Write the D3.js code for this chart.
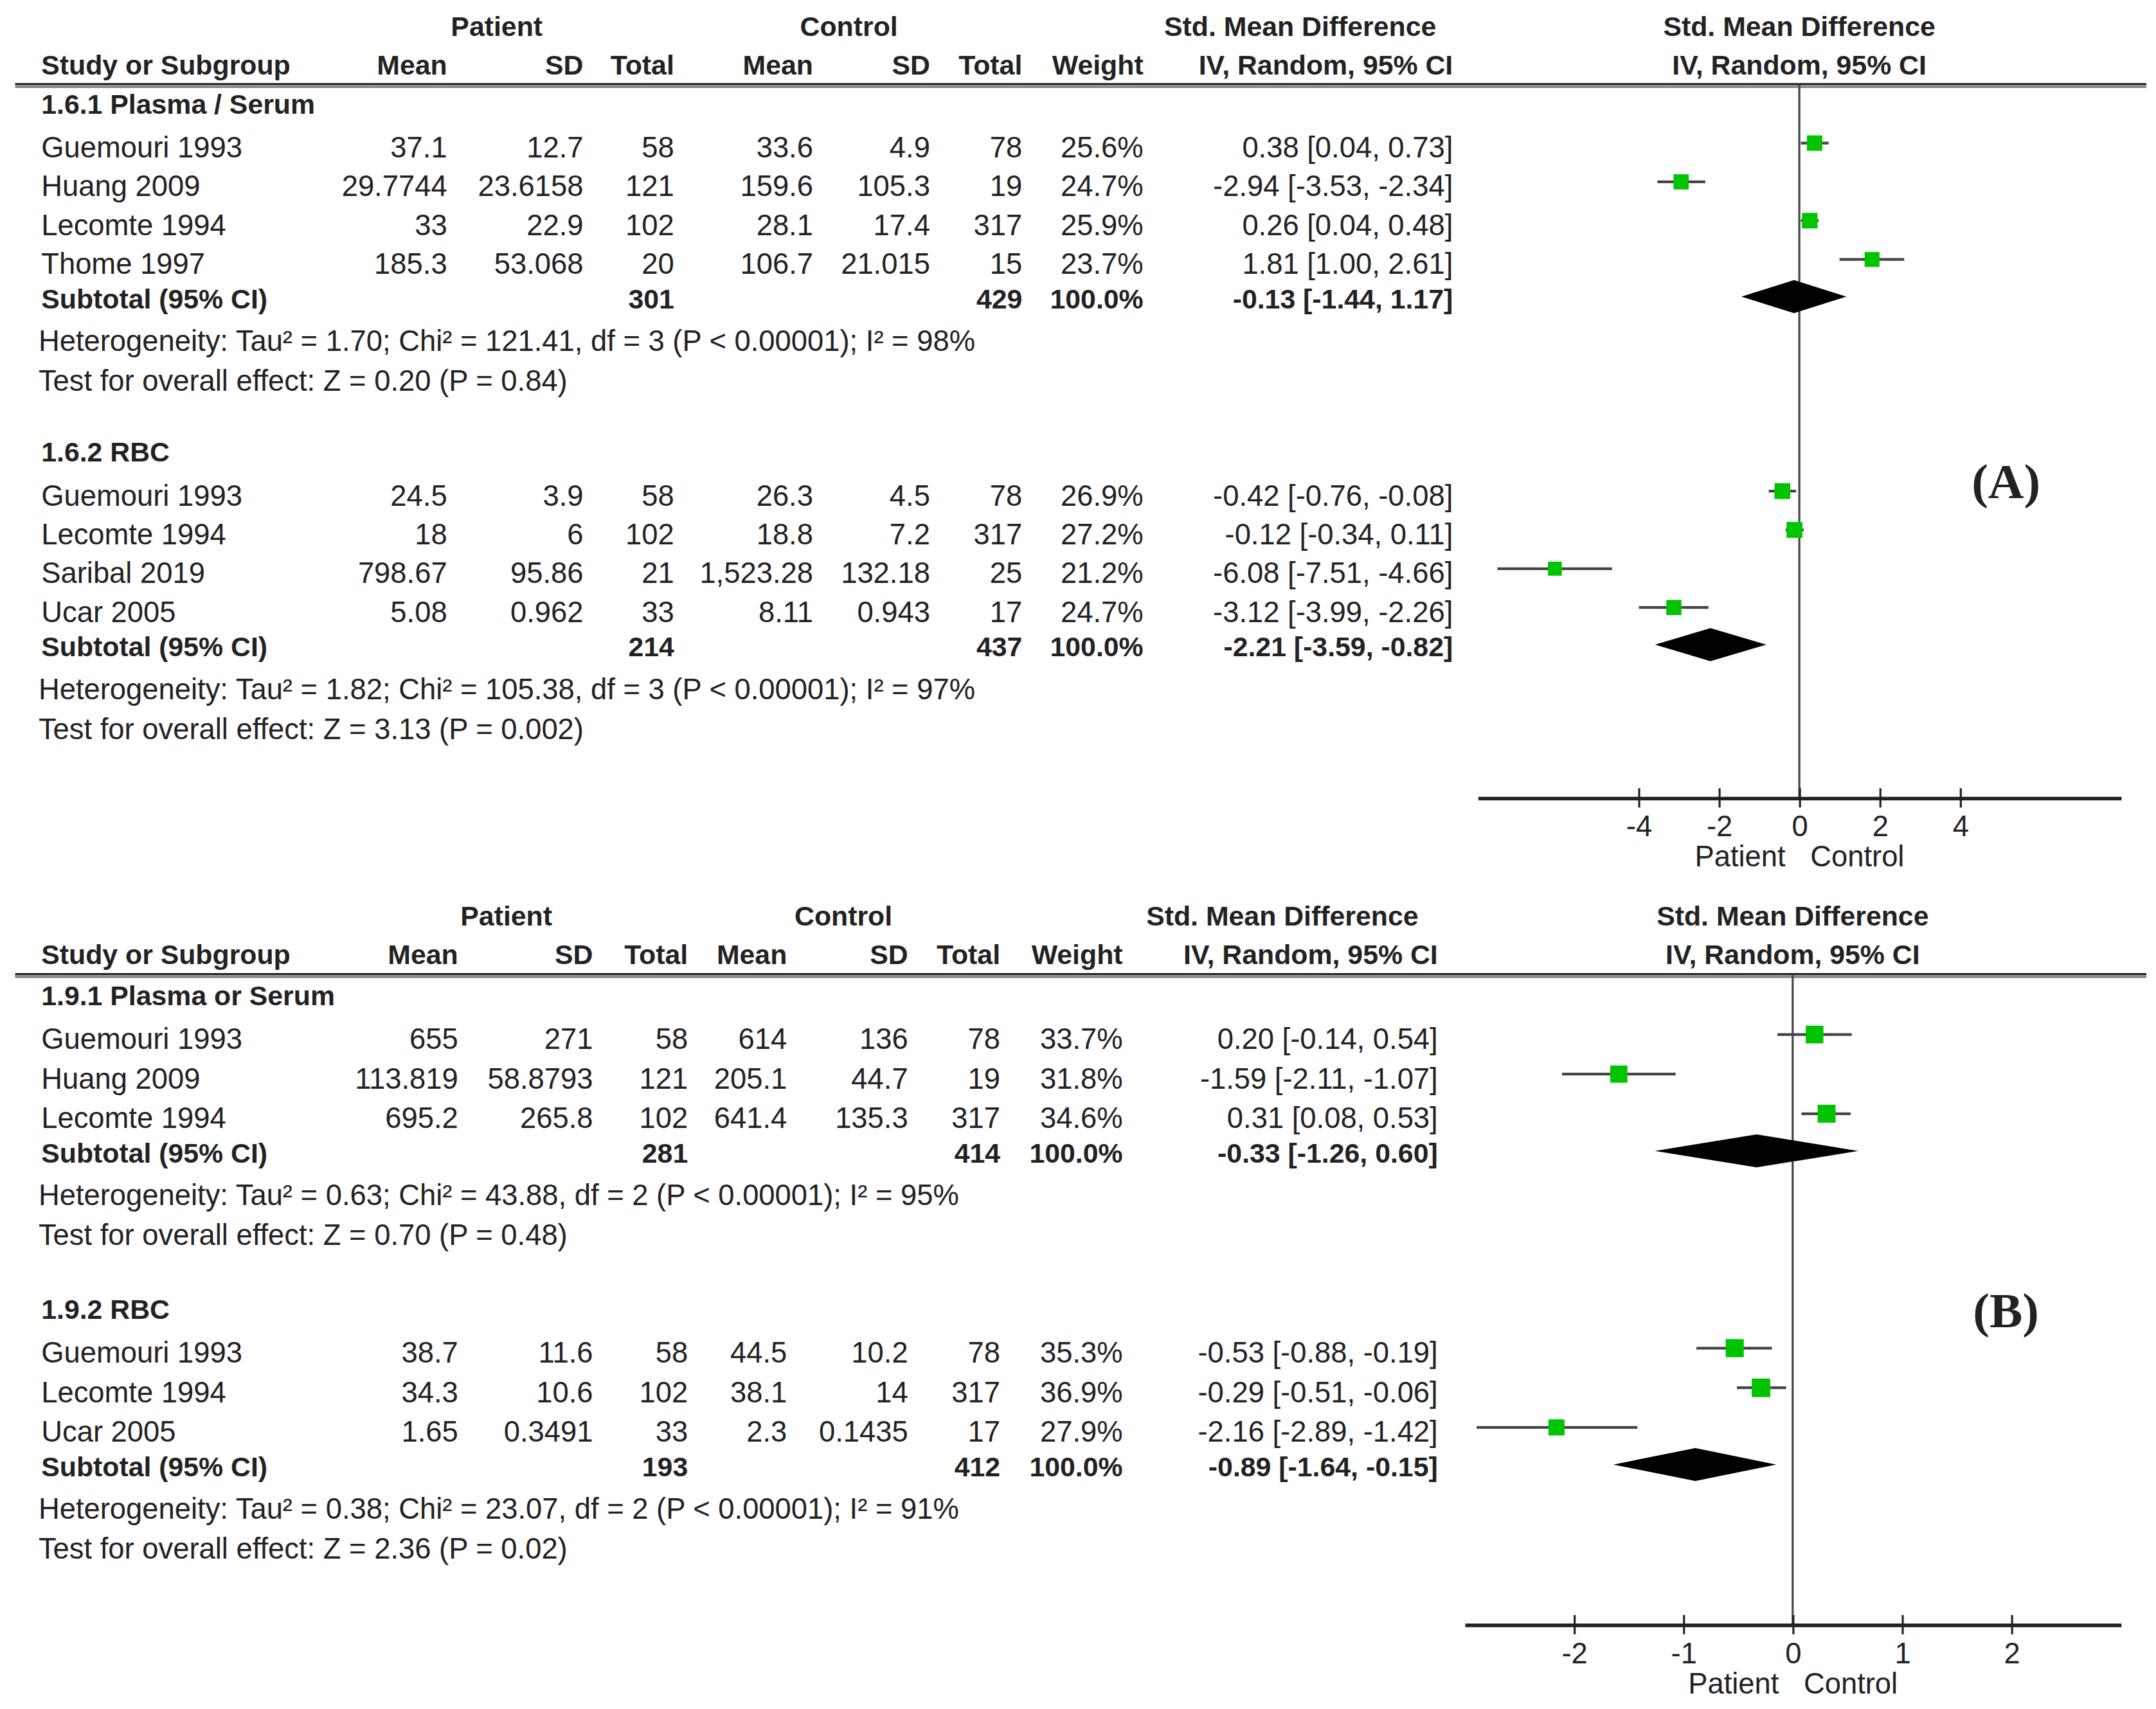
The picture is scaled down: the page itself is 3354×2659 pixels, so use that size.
<!DOCTYPE html>
<html>
<head>
<meta charset="utf-8">
<script src="https://cdn.jsdelivr.net/npm/d3@7"></script>
<style>
  body { margin: 0; background: #fff; }
  text { font-family: "Liberation Sans", Arial, sans-serif; fill: #222; }
</style>
</head>
<body>
<script>
// ---- data ----
// row: study, patient mean, sd, total, control mean, sd, total, weight, smd, lo, hi
const colHeads = ["Study or Subgroup", "Mean", "SD", "Total", "Mean", "SD", "Total", "Weight"];

const groupsA = ["1.6.1 Plasma / Serum", "1.6.2 RBC"];
const studiesA = [
    [
        ["Guemouri 1993", "37.1", "12.7", 58, "33.6", "4.9", 78, 25.6, 0.38, 0.04, 0.73],
        ["Huang 2009", "29.7744", "23.6158", 121, "159.6", "105.3", 19, 24.7, -2.94, -3.53, -2.34],
        ["Lecomte 1994", "33", "22.9", 102, "28.1", "17.4", 317, 25.9, 0.26, 0.04, 0.48],
        ["Thome 1997", "185.3", "53.068", 20, "106.7", "21.015", 15, 23.7, 1.81, 1.00, 2.61]
    ],
    [
        ["Guemouri 1993", "24.5", "3.9", 58, "26.3", "4.5", 78, 26.9, -0.42, -0.76, -0.08],
        ["Lecomte 1994", "18", "6", 102, "18.8", "7.2", 317, 27.2, -0.12, -0.34, 0.11],
        ["Saribal 2019", "798.67", "95.86", 21, "1,523.28", "132.18", 25, 21.2, -6.08, -7.51, -4.66],
        ["Ucar 2005", "5.08", "0.962", 33, "8.11", "0.943", 17, 24.7, -3.12, -3.99, -2.26]
    ]
];
// subtotal: patient total, control total, smd, lo, hi
const subtotalsA = [[301, 429, -0.13, -1.44, 1.17], [214, 437, -2.21, -3.59, -0.82]];
const heteroA = [
    "Heterogeneity: Tau² = 1.70; Chi² = 121.41, df = 3 (P < 0.00001); I² = 98%",
    "Heterogeneity: Tau² = 1.82; Chi² = 105.38, df = 3 (P < 0.00001); I² = 97%"
];
const overallA = ["Test for overall effect: Z = 0.20 (P = 0.84)", "Test for overall effect: Z = 3.13 (P = 0.002)"];
const ticksA = [-4, -2, 0, 2, 4];

const groupsB = ["1.9.1 Plasma or Serum", "1.9.2 RBC"];
const studiesB = [
    [
        ["Guemouri 1993", "655", "271", 58, "614", "136", 78, 33.7, 0.20, -0.14, 0.54],
        ["Huang 2009", "113.819", "58.8793", 121, "205.1", "44.7", 19, 31.8, -1.59, -2.11, -1.07],
        ["Lecomte 1994", "695.2", "265.8", 102, "641.4", "135.3", 317, 34.6, 0.31, 0.08, 0.53]
    ],
    [
        ["Guemouri 1993", "38.7", "11.6", 58, "44.5", "10.2", 78, 35.3, -0.53, -0.88, -0.19],
        ["Lecomte 1994", "34.3", "10.6", 102, "38.1", "14", 317, 36.9, -0.29, -0.51, -0.06],
        ["Ucar 2005", "1.65", "0.3491", 33, "2.3", "0.1435", 17, 27.9, -2.16, -2.89, -1.42]
    ]
];
const subtotalsB = [[281, 414, -0.33, -1.26, 0.60], [193, 412, -0.89, -1.64, -0.15]];
const heteroB = [
    "Heterogeneity: Tau² = 0.63; Chi² = 43.88, df = 2 (P < 0.00001); I² = 95%",
    "Heterogeneity: Tau² = 0.38; Chi² = 23.07, df = 2 (P < 0.00001); I² = 91%"
];
const overallB = ["Test for overall effect: Z = 0.70 (P = 0.48)", "Test for overall effect: Z = 2.36 (P = 0.02)"];
const ticksB = [-2, -1, 0, 1, 2];

// ---- layout (drawn in the coordinates of a 1567 wide copy, scaled up) ----
const W = 1567, H = 1242.3;
const REG = 21.2, BOLD = 20;

const svg = d3.select("body").append("svg")
    .attr("width", 3354)
    .attr("height", 2659)
    .attr("viewBox", `0 0 ${W} ${H}`);

const boxSize = d3.scaleSqrt().domain([0, 40]).range([0, 14]);
const fmt = v => v.toFixed(2);

function txt(g, x, y, s, anchor, bold, size) {
    return g.append("text")
        .attr("x", x).attr("y", y)
        .attr("text-anchor", anchor || "start")
        .attr("font-weight", bold ? "bold" : "normal")
        .attr("font-size", size || (bold ? BOLD : REG))
        .text(s);
}

function drawPanel(cfg) {
    const g = svg.append("g");
    const c = cfg.cols;
    const x = d3.scaleLinear().domain(cfg.domain).range(cfg.range);

    // headers
    const h1 = cfg.headY + 7, h2 = cfg.headY + 35;
    txt(g, cfg.patientX, h1, "Patient", "middle", true);
    txt(g, cfg.controlX, h1, "Control", "middle", true);
    txt(g, cfg.smdX, h1, "Std. Mean Difference", "middle", true);
    txt(g, x(0), h1, "Std. Mean Difference", "middle", true);
    txt(g, c[0], h2, colHeads[0], "start", true);
    colHeads.slice(1).forEach((s, i) => txt(g, c[i + 1], h2, s, "end", true));
    txt(g, cfg.ciX, h2, "IV, Random, 95% CI", "end", true);
    txt(g, x(0), h2, "IV, Random, 95% CI", "middle", true);

    // double rule under the header
    g.append("line").attr("x1", 11).attr("x2", 1560)
        .attr("y1", cfg.lineY - 0.8).attr("y2", cfg.lineY - 0.8)
        .attr("stroke", "#222").attr("stroke-width", 1.6);
    g.append("line").attr("x1", 11).attr("x2", 1560)
        .attr("y1", cfg.lineY + 1.2).attr("y2", cfg.lineY + 1.2)
        .attr("stroke", "#777").attr("stroke-width", 1.4);

    // zero line
    g.append("line")
        .attr("x1", x(0)).attr("x2", x(0))
        .attr("y1", cfg.lineY).attr("y2", cfg.axisY)
        .attr("stroke", "#444").attr("stroke-width", 1.5);

    cfg.groups.forEach((name, gi) => {
        const top = cfg.secY[gi];
        txt(g, c[0], top + 7.5, name, "start", true);
        const rows = cfg.studies[gi];
        const rowY = i => top + 32 + i * cfg.step;

        rows.forEach((r, i) => {
            const y = rowY(i);
            txt(g, c[0], y + 7.5, r[0]);
            [r[1], r[2], r[3], r[4], r[5], r[6]].forEach((v, k) => txt(g, c[k + 1], y + 7.5, v, "end"));
            txt(g, c[7], y + 7.5, r[7].toFixed(1) + "%", "end");
            txt(g, cfg.ciX, y + 7.5, `${fmt(r[8])} [${fmt(r[9])}, ${fmt(r[10])}]`, "end");

            const my = y - 3;
            g.append("line")
                .attr("x1", x(r[9])).attr("x2", x(r[10]))
                .attr("y1", my).attr("y2", my)
                .attr("stroke", "#444").attr("stroke-width", 2);
            const s = boxSize(r[7]);
            g.append("rect")
                .attr("x", x(r[8]) - s / 2).attr("y", my - s / 2)
                .attr("width", s).attr("height", s)
                .attr("fill", "#00c400");
        });

        const sub = cfg.subtotals[gi];
        const sy = rowY(rows.length - 1) + 25;
        txt(g, c[0], sy + 7.5, "Subtotal (95% CI)", "start", true);
        txt(g, c[3], sy + 7.5, sub[0], "end", true);
        txt(g, c[6], sy + 7.5, sub[1], "end", true);
        txt(g, c[7], sy + 7.5, "100.0%", "end", true);
        txt(g, cfg.ciX, sy + 7.5, `${fmt(sub[2])} [${fmt(sub[3])}, ${fmt(sub[4])}]`, "end", true);

        const dy = sy - 1;
        g.append("path")
            .attr("d", `M${x(sub[3])},${dy}L${x(sub[2])},${dy - 12}L${x(sub[4])},${dy}L${x(sub[2])},${dy + 12}Z`)
            .attr("fill", "#000");

        txt(g, c[0] - 2, sy + 31 + 7.5, cfg.hetero[gi]);
        txt(g, c[0] - 2, sy + 60 + 7.5, cfg.overall[gi]);
    });

    // axis
    const ax = g.append("g")
        .attr("transform", `translate(0,${cfg.axisY})`)
        .call(d3.axisBottom(x).tickValues(cfg.ticks).tickSizeInner(6).tickSizeOuter(0)
            .tickPadding(7).tickFormat(d => String(d)));
    ax.select(".domain").attr("stroke", "#222").attr("stroke-width", 2.6);
    ax.selectAll(".tick line").attr("y1", -7).attr("y2", 7)
        .attr("stroke", "#222").attr("stroke-width", 1.5);
    ax.selectAll(".tick text")
        .attr("font-family", "Liberation Sans, Arial, sans-serif")
        .attr("font-size", REG).attr("fill", "#222");

    txt(g, x(0) - 10, cfg.axisY + 50, "Patient", "end");
    txt(g, x(0) + 8, cfg.axisY + 50, "Control", "start");

    g.append("text")
        .attr("x", 1458).attr("y", cfg.tagY + 12)
        .attr("text-anchor", "middle")
        .attr("font-family", "Liberation Serif, Times New Roman, serif")
        .attr("font-weight", "bold")
        .attr("font-size", 36)
        .style("font-family", "'Liberation Serif', serif")
        .text(cfg.tag);
}

drawPanel({
    groups: groupsA, studies: studiesA, subtotals: subtotalsA,
    hetero: heteroA, overall: overallA, ticks: ticksA,
    cols: [30, 325, 424, 490, 591, 676, 743, 831],
    patientX: 361, controlX: 617, smdX: 945, ciX: 1056,
    domain: [-8, 8], range: [1074, 1541.5],
    headY: 19, lineY: 62, secY: [75, 328], step: 28.2,
    axisY: 580, tag: "(A)", tagY: 350
});

drawPanel({
    groups: groupsB, studies: studiesB, subtotals: subtotalsB,
    hetero: heteroB, overall: overallB, ticks: ticksB,
    cols: [30, 333, 431, 500, 572, 660, 727, 816],
    patientX: 368, controlX: 613, smdX: 932, ciX: 1045,
    domain: [-3, 3], range: [1064.5, 1541.4],
    headY: 666, lineY: 709, secY: [723, 951], step: 28.8,
    axisY: 1181, tag: "(B)", tagY: 953
});
</script>
</body>
</html>
